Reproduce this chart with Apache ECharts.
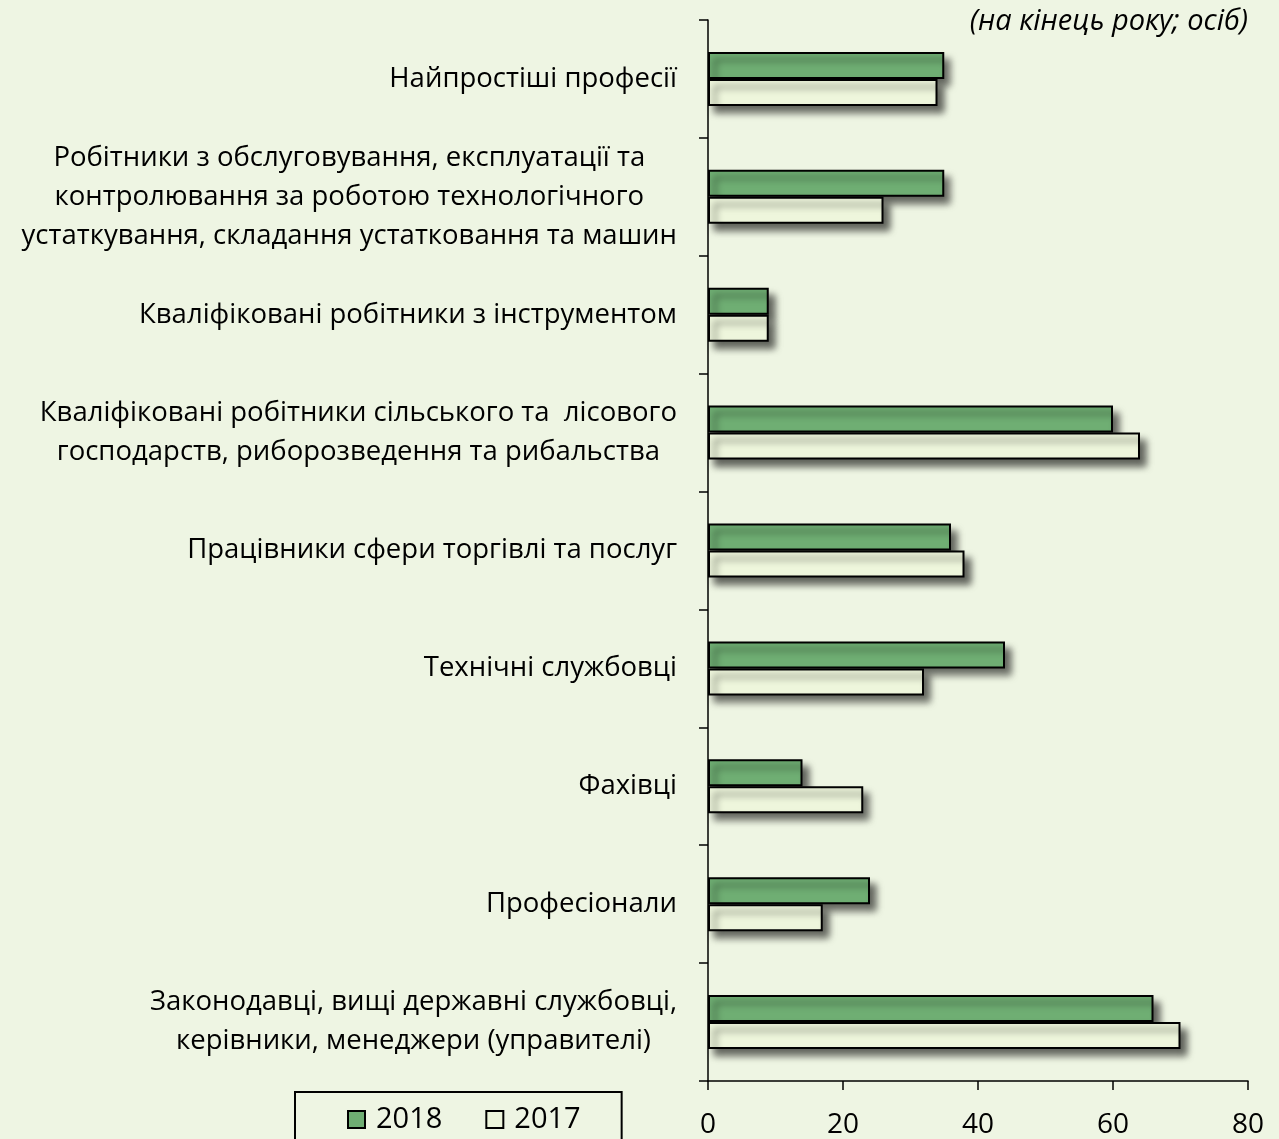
<!DOCTYPE html>
<html><head><meta charset="utf-8">
<script src="https://cdn.jsdelivr.net/npm/echarts@6/dist/echarts.min.js"></script>
<style>html,body{margin:0;padding:0;background:#eef5e3;}#c{width:1279px;height:1139px;}</style>
</head><body><div id="c"></div>
<script>
const categories = [
  'Найпростіші професії',
  'Робітники з обслуговування, експлуатації та\nконтролювання за роботою технологічного\nустаткування, складання устатковання та машин',
  'Кваліфіковані робітники з інструментом',
  'Кваліфіковані робітники сільського та  лісового\nгосподарств, риборозведення та рибальства',
  'Працівники сфери торгівлі та послуг',
  'Технічні службовці',
  'Фахівці',
  'Професіонали',
  'Законодавці, вищі державні службовці,\nкерівники, менеджери (управителі)'
];
const values2018 = [35, 35, 9, 60, 36, 44, 14, 24, 66];
const values2017 = [34, 26, 9, 64, 38, 32, 23, 17, 70];
const xTicks = [0, 20, 40, 60, 80];
const unitNote = '(на кінець року; осіб)';

const FONT = 'Open Sans';
const chart = echarts.init(document.getElementById('c'));
const barShadow = {shadowColor:'rgba(0,0,0,0.6)', shadowBlur:7, shadowOffsetX:6, shadowOffsetY:7};
chart.setOption({
  backgroundColor:'#eef5e3',
  animation:false,
  textStyle:{fontFamily:FONT, color:'#000'},
  title:{text:unitNote, right:26, top:2, textStyle:{fontFamily:FONT, fontStyle:'italic', fontWeight:'normal', fontSize:29, color:'#000'}},
  legend:{
    left:295, top:1092, padding:[13,41,30,52], itemGap:43,
    borderColor:'#000', borderWidth:2,
    icon:'rect', itemWidth:17, itemHeight:17,
    textStyle:{fontFamily:FONT, fontSize:29, color:'#000', padding:[0,0,0,6]},
    data:['2018','2017']
  },
  grid:{left:708, right:31, top:20, bottom:56, containLabel:false},
  xAxis:{
    type:'value', min:xTicks[0], max:xTicks[xTicks.length-1], interval:20,
    axisLine:{show:true, lineStyle:{color:'#000', width:1.5}},
    axisTick:{show:true, length:9, lineStyle:{color:'#000', width:1.5}},
    splitLine:{show:false},
    axisLabel:{fontFamily:FONT, fontSize:28, color:'#000', margin:30}
  },
  yAxis:{
    type:'category', inverse:true, data:categories,
    axisLine:{show:true, lineStyle:{color:'#000', width:1.5}},
    axisTick:{show:true, length:9, lineStyle:{color:'#000', width:1.5}},
    axisLabel:{
      margin:31, color:'#000', fontFamily:FONT, fontSize:27.5, lineHeight:39,
      formatter:function(v){return v.split('\n').map(function(l){return '{c|'+l+'}';}).join('\n');},
      rich:{c:{align:'center', fontFamily:FONT, fontSize:27.5, lineHeight:39, color:'#000'}}
    }
  },
  series:[
    {name:'2018', type:'bar', data:values2018, barWidth:27, barGap:'0%',
     itemStyle:Object.assign({color:'#6fae73', borderColor:'#000', borderWidth:2}, barShadow)},
    {name:'2017', type:'bar', data:values2017, barWidth:27, barGap:'0%',
     itemStyle:Object.assign({color:'#eef6dc', borderColor:'#000', borderWidth:2}, barShadow)}
  ]
});
</script></body></html>
